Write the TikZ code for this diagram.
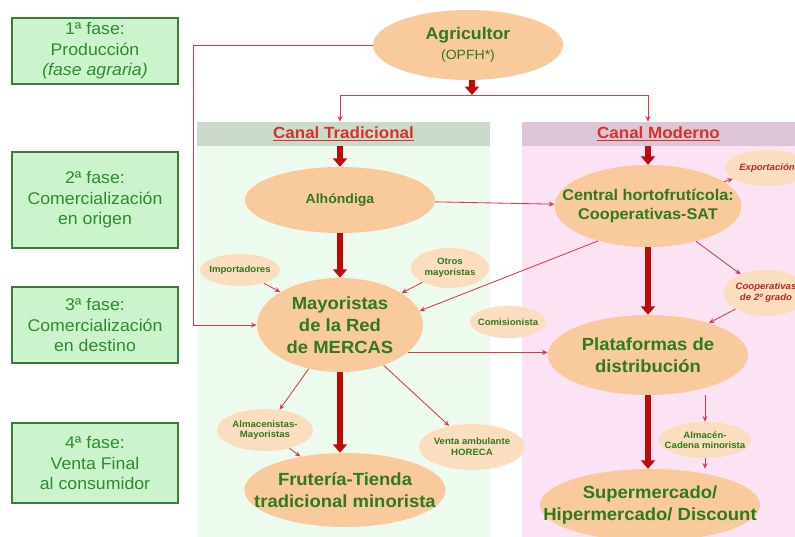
\documentclass[tikz,border=0pt]{standalone}
\usepackage{fontspec}
\setmainfont{Liberation Sans}[FakeStretch=1.05]
\usetikzlibrary{positioning,shapes.geometric,arrows.meta}
\definecolor{faseedge}{HTML}{3C7A3C}
\definecolor{fasefill}{HTML}{CCF4CC}
\definecolor{fasetext}{HTML}{2E8A2E}
\definecolor{tradfill}{HTML}{EDFBEF}
\definecolor{tradhead}{HTML}{CBDACB}
\definecolor{modfill}{HTML}{FCE3F3}
\definecolor{modhead}{HTML}{DCC6D6}
\definecolor{peach}{HTML}{F9CA9C}
\definecolor{ovaltext}{HTML}{2F7A1C}
\definecolor{canalred}{HTML}{D8312A}
\definecolor{flow}{HTML}{D83A48}
\definecolor{bigflow}{HTML}{BE0A0A}

\begin{document}
\begin{tikzpicture}[x=0.025cm,y=-0.025cm,>=Latex,
  fase/.style={draw=faseedge,fill=fasefill,line width=0.9pt,minimum width=4.15cm,align=center,
    text=fasetext,font=\fontsize{12}{14.5}\selectfont},
  oval/.style={ellipse,fill=peach,inner xsep=-14pt,inner ysep=-8pt,align=center,text=ovaltext,
    font=\fontsize{12.5}{15.5}\selectfont\bfseries},
  mini/.style={ellipse,fill=peach!65,inner xsep=-6pt,inner ysep=-2pt,align=center,text=ovaltext,
    font=\fontsize{6.5}{7.5}\selectfont\bfseries},
  export/.style={mini,text=canalred!85!black,font=\fontsize{6.5}{8}\selectfont\bfseries\itshape},
  head/.style={minimum height=0.6cm,inner sep=0pt,text=canalred,font=\fontsize{11.5}{12}\selectfont\bfseries},
  flow/.style={->,draw=flow,line width=0.6pt,-{Stealth[length=4pt,width=3.5pt]}},
  bigflow/.style={draw=bigflow,line width=4pt,-{Triangle[length=6pt,width=10pt]}}]
  \clip (0,0) rectangle (795,537);
  \fill[white] (0,0) rectangle (795,537);

  % phases, left column
  \node[fase,minimum height=1.6cm] (f1) at (95,51) {1ª fase:\\Producción\\{\itshape (fase agraria)}};
  \node[fase,minimum height=2.4cm] (f2) at (95,200) {2ª fase:\\Comercialización\\en origen};
  \node[fase,minimum height=1.9cm] (f3) at (95,325) {3ª fase:\\Comercialización\\en destino};
  \node[fase,minimum height=2cm] (f4) at (95,463) {4ª fase:\\Venta Final\\al consumidor};

  % the two channels
  \fill[tradfill] (197,122) rectangle (490,537);
  \fill[modfill] (522,122) rectangle (795,537);
  \node[head,fill=tradhead,minimum width=7.325cm] (tradhd) at (343.5,134) {\underline{Canal Tradicional}};
  \node[head,fill=modhead,minimum width=6.825cm] (modhd) at (658.5,134) {\underline{Canal Moderno}};

  % main ovals
  \node[oval,minimum width=4.75cm,minimum height=1.75cm,font=\fontsize{12}{14}\selectfont\bfseries] (agri) at (468,45)
    {Agricultor\\{\fontsize{9.5}{11}\selectfont\mdseries (OPFH*)}};
  \node[oval,minimum width=4.75cm,minimum height=1.65cm,font=\fontsize{9.5}{11}\selectfont\bfseries] (alh) at (340,200) {Alhóndiga};
  \node[oval,minimum width=4.6cm,minimum height=2.05cm,font=\fontsize{11}{14}\selectfont\bfseries] (central) at (648,206)
    {Central hortofrutícola:\\Cooperativas-SAT};
  \node[oval,minimum width=4.15cm,minimum height=2.35cm] (may) at (340,325) {Mayoristas\\de la Red\\de MERCAS};
  \node[oval,minimum width=5cm,minimum height=2cm] (plat) at (648,355) {Plataformas de\\distribución};
  \node[oval,minimum width=5cm,minimum height=1.85cm] (frut) at (345,490) {Frutería-Tienda\\tradicional minorista};
  \node[oval,inner xsep=-24pt,minimum width=5.5cm,minimum height=1.8cm] (super) at (650,505) {Supermercado/\\Hipermercado/ Discount};

  % small ovals
  \node[mini,minimum width=2cm,minimum height=0.8cm] (imp) at (240,270) {Importadores};
  \node[mini,minimum width=1.95cm,minimum height=1cm] (otros) at (450,268) {Otros\\mayoristas};
  \node[mini,minimum width=1.9cm,minimum height=0.8cm] (comis) at (508,322) {Comisionista};
  \node[mini,minimum width=2.4cm,minimum height=1.05cm] (alma) at (265,430) {Almacenistas-\\Mayoristas};
  \node[mini,minimum width=2.65cm,minimum height=1.15cm] (venta) at (472,447) {Venta ambulante\\HORECA};
  \node[mini,minimum width=2.3cm,minimum height=0.9cm] (almc) at (705,440) {Almacén-\\Cadena minorista};
  \node[export,minimum width=2.1cm,minimum height=0.9cm] (expo) at (767,168) {Exportación};
  \node[export,minimum width=2.1cm,minimum height=1.15cm] (coop) at (766,293) {Cooperativas\\de 2º grado};

  % from the farmer
  \coordinate (split) at (472,95);
  \coordinate (turn) at (193,325);
  \draw[flow] (agri.west) -| (turn) -- (may.west);
  \draw[bigflow] (agri.south -| split) -- (split);
  \draw[flow] (split) -| (alh |- tradhd.north);
  \draw[flow] (split) -| (central |- modhd.north);

  % thick main flows
  \draw[bigflow] (alh |- tradhd.south) -- (alh.north);
  \draw[bigflow] (central |- modhd.south) -- (central.north);
  \draw[bigflow] (alh.south) -- (may.north);
  \draw[bigflow] (may.south) -- (may.south |- frut.north);
  \draw[bigflow] (central.south) -- (plat.north);
  \draw[bigflow] (plat.south) -- (plat.south |- super.north);

  % thin flows
  \draw[flow] (alh) -- (central);
  \draw[flow] (central) -- (expo);
  \draw[flow] (central) -- (coop);
  \draw[flow] (coop) -- (plat);
  \draw[flow] (central.215) -- (may.10);
  \draw[flow] (imp) -- (may);
  \draw[flow] (otros) -- (may);
  \draw[flow] (may.-22) -- (plat.west |- may.-22);
  \draw[flow] (may) -- (alma);
  \draw[flow] (alma) -- (frut);
  \draw[flow] (may) -- (venta);
  \draw[flow] (almc.north |- plat.south) -- (almc.north);
  \draw[flow] (almc.south) -- (almc.south |- super.north);
\end{tikzpicture}
\end{document}
